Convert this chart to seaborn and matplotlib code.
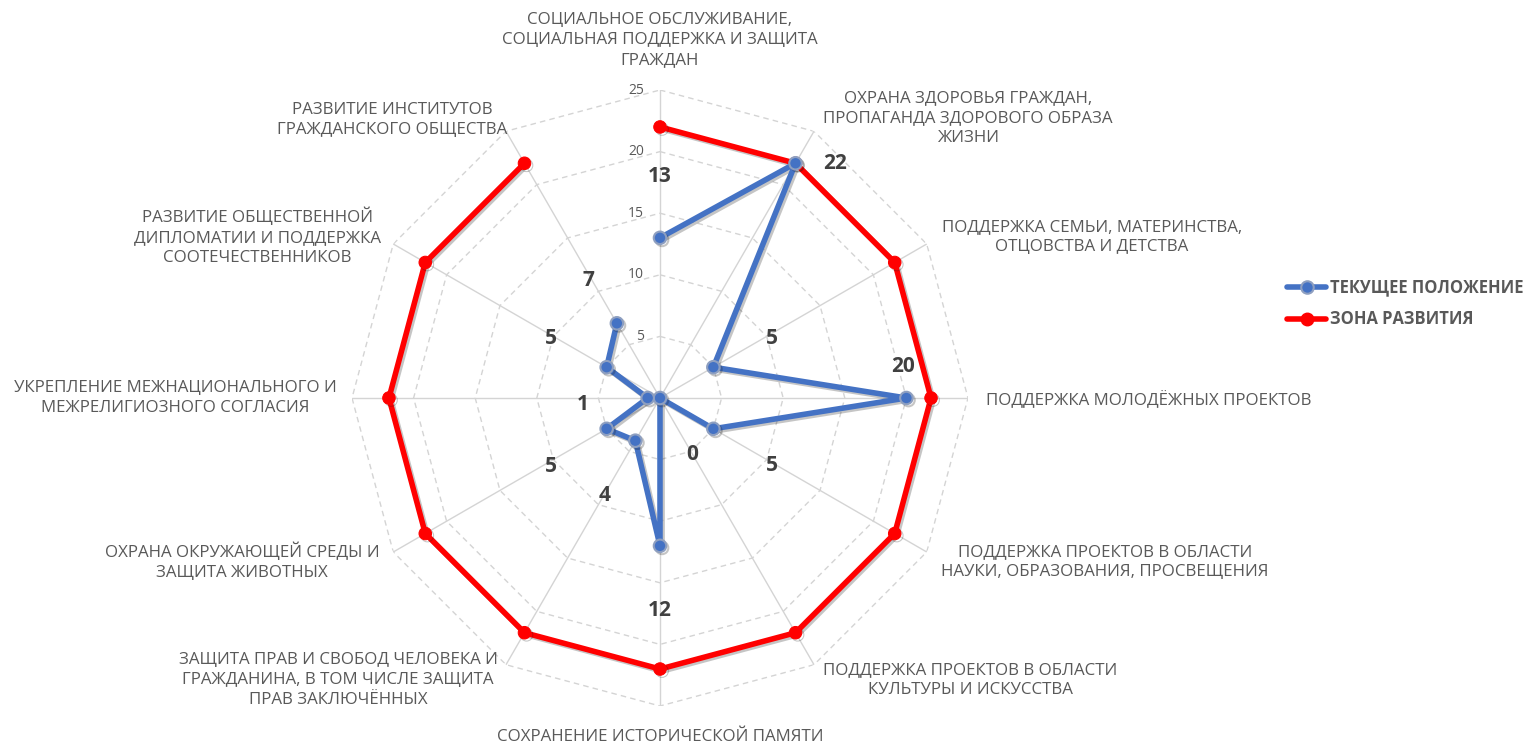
import numpy as np
import pandas as pd
import seaborn as sns
from matplotlib import pyplot as plt
from matplotlib import patheffects as pe
from matplotlib.lines import Line2D

# ===== data =====
categories = [
    "СОЦИАЛЬНОЕ ОБСЛУЖИВАНИЕ,\nСОЦИАЛЬНАЯ ПОДДЕРЖКА И ЗАЩИТА\nГРАЖДАН",
    "ОХРАНА ЗДОРОВЬЯ ГРАЖДАН,\nПРОПАГАНДА ЗДОРОВОГО ОБРАЗА\nЖИЗНИ",
    "ПОДДЕРЖКА СЕМЬИ, МАТЕРИНСТВА,\nОТЦОВСТВА И ДЕТСТВА",
    "ПОДДЕРЖКА МОЛОДЁЖНЫХ ПРОЕКТОВ",
    "ПОДДЕРЖКА ПРОЕКТОВ В ОБЛАСТИ\nНАУКИ, ОБРАЗОВАНИЯ, ПРОСВЕЩЕНИЯ",
    "ПОДДЕРЖКА ПРОЕКТОВ В ОБЛАСТИ\nКУЛЬТУРЫ И ИСКУССТВА",
    "СОХРАНЕНИЕ ИСТОРИЧЕСКОЙ ПАМЯТИ",
    "ЗАЩИТА ПРАВ И СВОБОД ЧЕЛОВЕКА И\nГРАЖДАНИНА, В ТОМ ЧИСЛЕ ЗАЩИТА\nПРАВ ЗАКЛЮЧЁННЫХ",
    "ОХРАНА ОКРУЖАЮЩЕЙ СРЕДЫ И\nЗАЩИТА ЖИВОТНЫХ",
    "УКРЕПЛЕНИЕ МЕЖНАЦИОНАЛЬНОГО И\nМЕЖРЕЛИГИОЗНОГО СОГЛАСИЯ",
    "РАЗВИТИЕ ОБЩЕСТВЕННОЙ\nДИПЛОМАТИИ И ПОДДЕРЖКА\nСООТЕЧЕСТВЕННИКОВ",
    "РАЗВИТИЕ ИНСТИТУТОВ\nГРАЖДАНСКОГО ОБЩЕСТВА",
]
current = [13, 22, 5, 20, 5, 0, 12, 4, 5, 1, 5, 7]
target = [22, 22, 22, 22, 22, 22, 22, 22, 22, 22, 22, 22]
series_names = ["ТЕКУЩЕЕ ПОЛОЖЕНИЕ", "ЗОНА РАЗВИТИЯ"]
r_ticks = [5, 10, 15, 20, 25]

# ===== layout (pixels in a 1528x744 canvas) =====
W, H = 1528, 744
CX, CY, RAD = 660, 398, 308
# category label anchors (x, y, ha)
cat_pos = [
    (660, 40, "center"), (968, 118, "center"), (1092, 237, "center"),
    (986, 400, "left"), (1105, 562, "center"), (970, 680, "center"),
    (660, 737, "center"), (338, 680, "center"), (242, 562, "center"),
    (175, 398, "center"), (257, 237, "center"), (392, 120, "center"),
]
# data label offsets from point, pixels (dx, dy up)
lab_off = [
    (0, 61), (40, 0), (59, 29), (-3, 31), (59, -37), (32, -57),
    (0, -65), (-31, -55), (-56, -38), (-65, -6), (-56, 29), (-28, 43),
]

BLUE = "#4472C4"
RED = "#FF0000"
GRID = "#D4D4D4"
TXT = "#595959"

sns.set_theme(style="white")
plt.rcParams['font.family'] = ['Open Sans', 'DejaVu Sans']

fig = plt.figure(figsize=(W / 100, H / 100), dpi=100)
ax = fig.add_axes([(CX - RAD) / W, (H - CY - RAD) / H, 2 * RAD / W, 2 * RAD / H],
                  projection='polar')
ax.set_theta_zero_location('N')
ax.set_theta_direction(-1)
ax.set_ylim(0, 25)
ax.grid(False)
ax.spines['polar'].set_visible(False)
ax.set_xticks([])
ax.set_yticks([])
ax.patch.set_alpha(0)

n = len(categories)
theta = np.arange(n) * 2 * np.pi / n
theta_c = np.append(theta, theta[0])

# polygon grid
for v in r_ticks:
    ax.plot(theta_c, [v] * (n + 1), color=GRID, lw=1.0, ls=(0, (4, 3)), zorder=1)
for t in theta:
    ax.plot([t, t], [0, 25], color=GRID, lw=1.0, zorder=1)
for v in r_ticks:
    ax.annotate(str(v), (0, v), xytext=(-16, 0), textcoords='offset pixels',
                ha='right', va='center', fontsize=10, color=TXT)

df = pd.DataFrame({
    "theta": np.concatenate([theta_c, theta_c]),
    "value": current + [current[0]] + target + [target[0]],
    "series": [series_names[0]] * (n + 1) + [series_names[1]] * (n + 1),
})
shadow = [pe.SimpleLineShadow(offset=(1.5, -1.5), alpha=0.25, rho=0.5), pe.Normal()]
sns.lineplot(data=df[df.series == series_names[1]], x="theta", y="value", sort=False,
             ax=ax, color=RED, lw=4, marker='o', markersize=9,
             markeredgecolor=RED, legend=False, zorder=3, path_effects=shadow)
sns.lineplot(data=df[df.series == series_names[0]], x="theta", y="value", sort=False,
             ax=ax, color=BLUE, lw=4, marker='o', markersize=9,
             markeredgecolor="#8E9FC0", markeredgewidth=1.5, legend=False, zorder=4,
             path_effects=shadow)
ax.set_xlabel("")
ax.set_ylabel("")
ax.set_ylim(0, 25)

# data labels
for t, v, (dx, dy) in zip(theta, current, lab_off):
    ax.annotate(str(v), (t, v), xytext=(dx, dy), textcoords='offset pixels',
                ha='center', va='center', fontsize=15, fontweight='bold',
                color="#404040", zorder=5)

# category labels
for lab, (x, y, ha) in zip(categories, cat_pos):
    fig.text(x / W, 1 - y / H, lab, ha=ha, va='center', ma='center',
             fontsize=12.2, color=TXT, linespacing=1.33)

handles = [
    Line2D([], [], color=BLUE, lw=4, marker='o', markersize=9,
           markeredgecolor="#8E9FC0", markeredgewidth=1.5),
    Line2D([], [], color=RED, lw=4, marker='o', markersize=9),
]


def add_legend(size):
    fpx = size * 100 / 72  # font size in pixels
    leg = fig.legend(handles, series_names, loc='center left',
                     bbox_to_anchor=(1287 / W, 1 - 303.5 / H), frameon=False,
                     borderpad=0, borderaxespad=0,
                     handlelength=39 / fpx, handletextpad=4 / fpx,
                     labelspacing=0.83,
                     prop={'weight': 'bold', 'size': size})
    for txt in leg.get_texts():
        txt.set_color(TXT)
    return leg


# fit legend text so the first entry spans ~193 px like the original
leg = add_legend(11)
fig.canvas.draw()
w = leg.get_texts()[0].get_window_extent().width
leg.remove()
add_legend(11 * 193 / w)

fig.savefig("out.png", dpi=100)
